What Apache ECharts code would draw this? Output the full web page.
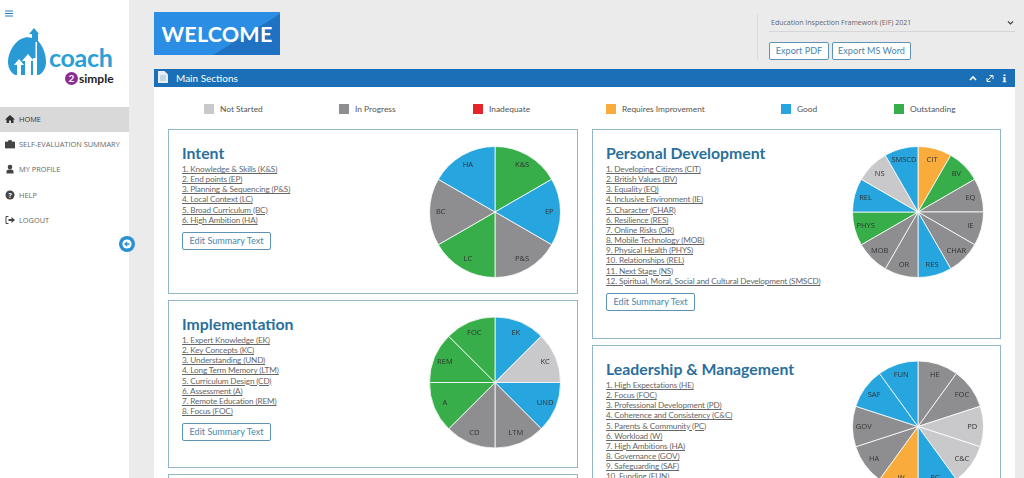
<!DOCTYPE html>
<html>
<head>
<meta charset="utf-8">
<title>Coach</title>
<script src="https://cdn.jsdelivr.net/npm/echarts@6/dist/echarts.min.js"></script>
<style>
  html, body { margin: 0; padding: 0; }
  body { width: 1024px; height: 478px; overflow: hidden; background: #ebebec; font-family: Lato, "Open Sans", sans-serif; color: #555; position: relative; }
  .abs { position: absolute; box-sizing: border-box; }
  #side { left: 0; top: 0; width: 129px; height: 478px; background: #fff; }
  .nav { position: absolute; left: 0; width: 129px; height: 25px; line-height: 24px; padding-left: 19px; box-sizing: border-box; font-size: 7.4px; color: #666; white-space: nowrap; font-family: "Open Sans", sans-serif; }
  .nav.on { background: #d9d9da; color: #333; }
  .nav svg { position: absolute; left: 5px; top: 7px; }
  #welcome { left: 154px; top: 12px; width: 126px; height: 43px; background: #2b8de4; color: #fff; font-size: 21.5px; font-weight: 700; line-height: 44px; text-align: center; letter-spacing: .2px; overflow: hidden; }
  #welcome i { position: absolute; left: 0; top: 0; width: 126px; height: 43px; background: #1f72c2; clip-path: polygon(59px 43px, 126px 2px, 126px 43px); }
  #welcome span { position: relative; }
  #panel { left: 154px; top: 87px; width: 861px; height: 391px; background: #fff; }
  #bar { left: 154px; top: 69px; width: 861px; height: 18px; background: #1a6fb6; color: #fff; font-size: 10px; line-height: 18px; padding-left: 22px; }
  .leg { position: absolute; top: 104px; height: 10px; font-size: 8.4px; line-height: 10px; color: #555; white-space: nowrap; }
  .leg i { position: absolute; left: -16px; top: 0; width: 10px; height: 10px; }
  .card { position: absolute; border: 1px solid #8fb6cb; background: #fff; box-sizing: border-box; }
  .card h2 { position: absolute; left: 13px; top: 13px; margin: 0; font-size: 15.8px; line-height: 20px; font-weight: 700; color: #2a6f9c; white-space: nowrap; }
  .card ol { position: absolute; left: 13px; top: 34px; margin: 0; padding: 0; list-style: none; font-size: 8.2px; letter-spacing: -.15px; line-height: 10.15px; color: #666; white-space: nowrap; }
  .card li { text-decoration: underline; }
  .btn { position: absolute; border: 1px solid #5d93b5; border-radius: 2px; color: #4a86ab; background: #fff; font-size: 9.1px; text-align: center; box-sizing: border-box; height: 18px; line-height: 16px; white-space: nowrap; }
  #chart { left: 0; top: 0; width: 1024px; height: 478px; }
</style>
</head>
<body>
<div class="abs" id="side">
  <svg class="abs" style="left:5px;top:10px" width="9" height="7"><path d="M0 1h8M0 3.500h8M0 6h8" stroke="#2a7fc0" stroke-width="1"/></svg>
  <svg class="abs" style="left:8px;top:28px" width="38" height="48" viewBox="0 0 38 48">
    <path d="M26 0l-5 6h3v4C21 9 17 9 13 11 5 15 0 26 0 34c0 6 3 11 7 13h24c4-2 7-7 7-13 0-8-3-16-8-21V6h1z" fill="#2a9ad6"/>
    <path d="M9 48V37H6l5-6 5 6h-3v11zM17 48V33h-3l6-7 6 7h-3v15zM25 48V14h4v34z" fill="#fff"/>
    <path d="M26 2l-3 4h1.500v24h3V6H29z" fill="#2a9ad6"/>
  </svg>
  <div class="abs" style="left:49px;top:41px;font-size:25px;font-weight:700;line-height:32px;color:#2aa0d8;letter-spacing:-.3px;">coach</div>
  <svg class="abs" style="left:65px;top:72px" width="13" height="13"><circle cx="6.500" cy="6.500" r="6.500" fill="#8e2b91"/></svg>
  <div class="abs" style="left:65px;top:72px;width:13px;text-align:center;font-size:10px;font-weight:700;line-height:13px;color:#fff;">2</div>
  <div class="abs" style="left:79px;top:71px;font-size:12px;font-weight:700;line-height:15px;color:#222;">simple</div>
  <div class="nav on" style="top:107px"><svg width="10" height="10"><path d="M5 1L0 5.500h1.500V9h2.500V6.500h2V9h2.500V5.500H10z" fill="#333"/></svg>HOME</div>
  <div class="nav" style="top:132px"><svg width="10" height="10"><path d="M0 3h10v6H0zM3.500 3V1.500h3V3" fill="#444" stroke="#444" stroke-width=".7"/></svg>SELF-EVALUATION SUMMARY</div>
  <div class="nav" style="top:157px"><svg width="10" height="10"><circle cx="5" cy="3" r="2.300" fill="#444"/><path d="M1.500 9.500V7.500C1.500 6 3 5.500 5 5.500S8.500 6 8.500 7.500v2z" fill="#444"/></svg>MY PROFILE</div>
  <div class="nav" style="top:183px"><svg width="10" height="10"><circle cx="5" cy="5" r="4.500" fill="#444"/><text x="5" y="8" font-size="7.500" font-weight="700" text-anchor="middle" fill="#fff">?</text></svg>HELP</div>
  <div class="nav" style="top:208px"><svg width="10" height="10"><path d="M3.500 1.500H1v7h2.500" fill="none" stroke="#444"/><path d="M3.500 4h3V2l3.500 3-3.500 3V6h-3z" fill="#444"/></svg>LOGOUT</div>
</div>
<svg class="abs" style="left:119px;top:236px" width="16" height="16"><circle cx="8" cy="8" r="8" fill="#2a90d2"/><circle cx="8" cy="8" r="4.600" fill="#fff"/><path d="M10.500 8h-4M8.200 5.900L6 8l2.200 2.100" fill="none" stroke="#2a90d2" stroke-width="1.300"/></svg>

<div class="abs" id="welcome"><i></i><span>WELCOME</span></div>
<div class="abs" style="left:757px;top:14px;width:1px;height:46px;background:#dcdcdc"></div>
<div class="abs" style="left:771px;top:17px;font-size:7px;line-height:11px;color:#666;font-family:'Open Sans',sans-serif;white-space:nowrap">Education Inspection Framework (EIF) 2021</div>
<svg class="abs" style="left:1007px;top:20px" width="7" height="6"><path d="M1 1.500l2.500 2.500L6 1.500" fill="none" stroke="#444" stroke-width="1.200"/></svg>
<div class="abs" style="left:769px;top:31px;width:246px;height:1px;background:#d6d6d6"></div>
<div class="btn" style="left:769px;top:42px;width:60px;background:#fff">Export PDF</div>
<div class="btn" style="left:832px;top:42px;width:79px;background:#fff">Export MS Word</div>

<div class="abs" id="panel"></div>
<div class="abs" id="bar">Main Sections</div>
<svg class="abs" style="left:158px;top:71px" width="10" height="12"><path d="M0 0h6.500L10 3.500V12H0z" fill="#e8eef3"/><path d="M2 5h6M2 7h6M2 9h6" stroke="#8fb0c8" stroke-width=".8"/></svg>
<svg class="abs" style="left:968px;top:74px" width="40" height="9"><path d="M2 6l3-3 3 3" fill="none" stroke="#fff" stroke-width="1.600"/><path d="M19 7l5-5M21.500 1.500H25V5M19 4v3.500h3.500" fill="none" stroke="#fff" stroke-width="1"/><path d="M35.500 0.500h2v1.500h-2zM35 3.300h2.500v4h.8v1h-3.600v-1h.8V4.300H35z" fill="#fff"/></svg>
<div id="legend"></div>

<div class="card" style="left:168px;top:129px;width:410px;height:165px" data-title="Intent" data-list="intentItems" data-btn="102"></div>
<div class="card" style="left:168px;top:300px;width:410px;height:168px" data-title="Implementation" data-list="implementationItems" data-btn="122"></div>
<div class="card" style="left:168px;top:474px;width:410px;height:40px"></div>
<div class="card" style="left:592px;top:129px;width:409px;height:210px" data-title="Personal Development" data-list="personalItems" data-btn="163"></div>
<div class="card" style="left:592px;top:345px;width:409px;height:170px" data-title="Leadership &amp; Management" data-list="leadershipItems"></div>

<div class="abs" id="chart"></div>

<script>
var statusNames = ['Not Started', 'In Progress', 'Inadequate', 'Requires Improvement', 'Good', 'Outstanding'];
var statusColors = ['#c9c9cb', '#8e8e90', '#e8242b', '#f9ab3c', '#27a5de', '#37ae49'];
var legendLeft = [220, 355, 489, 622, 797, 910];

var intentItems = ['Knowledge & Skills (K&S)', 'End points (EP)', 'Planning & Sequencing (P&S)', 'Local Context (LC)', 'Broad Curriculum (BC)', 'High Ambition (HA)'];
var intentCodes = ['K&S', 'EP', 'P&S', 'LC', 'BC', 'HA'];
var intentValues = [1, 1, 1, 1, 1, 1];
var intentStatus = [5, 4, 1, 5, 1, 4];

var implementationItems = ['Expert Knowledge (EK)', 'Key Concepts (KC)', 'Understanding (UND)', 'Long Term Memory (LTM)', 'Curriculum Design (CD)', 'Assessment (A)', 'Remote Education (REM)', 'Focus (FOC)'];
var implementationCodes = ['EK', 'KC', 'UND', 'LTM', 'CD', 'A', 'REM', 'FOC'];
var implementationValues = [1, 1, 1, 1, 1, 1, 1, 1];
var implementationStatus = [4, 0, 4, 1, 1, 5, 5, 5];

var personalItems = ['Developing Citizens (CIT)', 'British Values (BV)', 'Equality (EQ)', 'Inclusive Environment (IE)', 'Character (CHAR)', 'Resilience (RES)', 'Online Risks (OR)', 'Mobile Technology (MOB)', 'Physical Health (PHYS)', 'Relationships (REL)', 'Next Stage (NS)', 'Spiritual, Moral, Social and Cultural Development (SMSCD)'];
var personalCodes = ['CIT', 'BV', 'EQ', 'IE', 'CHAR', 'RES', 'OR', 'MOB', 'PHYS', 'REL', 'NS', 'SMSCD'];
var personalValues = [1, 1, 1, 1, 1, 1, 1, 1, 1, 1, 1, 1];
var personalStatus = [3, 5, 1, 1, 1, 4, 1, 1, 5, 4, 0, 4];

var leadershipItems = ['High Expectations (HE)', 'Focus (FOC)', 'Professional Development (PD)', 'Coherence and Consistency (C&C)', 'Parents & Community (PC)', 'Workload (W)', 'High Ambitions (HA)', 'Governance (GOV)', 'Safeguarding (SAF)', 'Funding (FUN)'];
var leadershipCodes = ['HE', 'FOC', 'PD', 'C&C', 'PC', 'W', 'HA', 'GOV', 'SAF', 'FUN'];
var leadershipValues = [1, 1, 1, 1, 1, 1, 1, 1, 1, 1];
var leadershipStatus = [1, 1, 0, 0, 4, 3, 1, 1, 4, 4];

var lists = { intentItems: intentItems, implementationItems: implementationItems, personalItems: personalItems, leadershipItems: leadershipItems };

// legend row
var legendHtml = '';
statusNames.forEach(function (name, i) {
  legendHtml += '<div class="leg" style="left:' + legendLeft[i] + 'px"><i style="background:' + statusColors[i] + '"></i>' + name + '</div>';
});
document.getElementById('legend').innerHTML = legendHtml;

// card text
document.querySelectorAll('.card[data-title]').forEach(function (card) {
  var items = lists[card.dataset.list];
  var html = '<h2>' + card.dataset.title.replace('&', '&amp;') + '</h2><ol>';
  items.forEach(function (t, i) {
    html += '<li>' + (i + 1) + '. ' + t.replace(/&/g, '&amp;') + '</li>';
  });
  html += '</ol>';
  if (card.dataset.btn) {
    html += '<div class="btn" style="left:13px;top:' + card.dataset.btn + 'px;width:89px">Edit Summary Text</div>';
  }
  card.innerHTML = html;
});

function slices(codes, values, status) {
  return codes.map(function (c, i) {
    return { name: c, value: values[i], itemStyle: { color: statusColors[status[i]] } };
  });
}

// the labels sit out near the rim, so they get their own see-through ring on top
function pie(center, codes, values, status) {
  var data = slices(codes, values, status);
  return [{
    type: 'pie',
    center: center,
    radius: [0, 65.5],
    startAngle: 90,
    silent: true,
    animation: false,
    data: data,
    label: { show: false },
    labelLine: { show: false },
    itemStyle: { borderColor: '#fff', borderWidth: 0.8, opacity: 1 }
  }, {
    type: 'pie',
    center: center,
    radius: [37, 65.5],
    startAngle: 90,
    silent: true,
    animation: false,
    data: data.map(function (d) { return { name: d.name, value: d.value }; }),
    itemStyle: { color: 'rgba(0,0,0,0)' },
    label: { show: true, position: 'inside', color: '#333', fontSize: 7.5, fontFamily: 'Open Sans' },
    labelLine: { show: false }
  }];
}

var chart = echarts.init(document.getElementById('chart'), null, { width: 1024, height: 478 });
chart.setOption({
  backgroundColor: 'transparent',
  series: [].concat(
    pie([495, 212], intentCodes, intentValues, intentStatus),
    pie([495, 382.5], implementationCodes, implementationValues, implementationStatus),
    pie([918, 212], personalCodes, personalValues, personalStatus),
    pie([918, 426.5], leadershipCodes, leadershipValues, leadershipStatus)
  )
});
</script>
</body>
</html>
